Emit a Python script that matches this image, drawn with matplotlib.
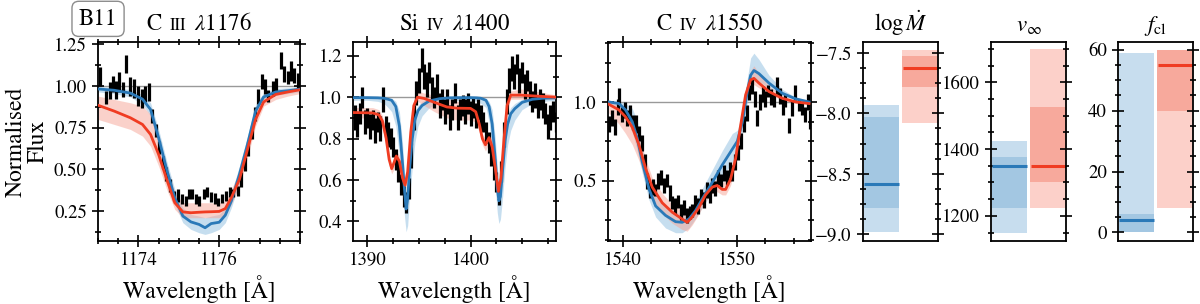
import matplotlib
matplotlib.use('Agg')
import matplotlib.pyplot as plt
from matplotlib.ticker import MultipleLocator, FormatStrFormatter
from matplotlib.offsetbox import TextArea, HPacker, AnchoredOffsetbox

plt.rcParams['font.family'] = 'STIXGeneral'
plt.rcParams['mathtext.fontset'] = 'stix'
plt.rcParams['axes.linewidth'] = 1.3

BLUE = '#2a79b8'
RED = '#f03c22'
BLUE_BAND = '#8fbfe0'
RED_BAND = '#f7a597'
BLUE_LIGHT = '#c7ddee'
BLUE_DARK = '#a3c7e2'
RED_LIGHT = '#fcd0c9'
RED_DARK = '#f7a99c'

# ---------- C III 1176 ----------
c3_wave = [1173.06, 1173.19, 1173.29, 1173.36, 1173.45, 1173.53, 1173.62, 1173.70, 1173.80, 1173.88,
           1173.98, 1174.09, 1174.17, 1174.25, 1174.33, 1174.43, 1174.51, 1174.61, 1174.69, 1174.78,
           1174.88, 1174.99, 1175.07, 1175.17, 1175.25, 1175.33, 1175.43, 1175.51, 1175.62, 1175.70,
           1175.80, 1175.90, 1175.98, 1176.08, 1176.16, 1176.27, 1176.35, 1176.46, 1176.54, 1176.64,
           1176.72, 1176.80, 1176.88, 1176.96, 1177.06, 1177.14, 1177.22, 1177.33, 1177.41, 1177.52,
           1177.60, 1177.70, 1177.78, 1177.86, 1177.94]
c3_flux = [1.058, 0.932, 0.972, 1.012, 0.978, 1.022, 0.978, 1.134, 0.998, 0.986,
           0.942, 0.926, 0.952, 0.966, 0.820, 0.732, 0.632, 0.542, 0.472, 0.402,
           0.342, 0.342, 0.322, 0.312, 0.352, 0.352, 0.322, 0.312, 0.352, 0.362,
           0.332, 0.326, 0.306, 0.326, 0.342, 0.362, 0.358, 0.372, 0.438, 0.532,
           0.622, 0.722, 0.832, 0.938, 1.026, 0.998, 0.942, 0.986, 1.006, 1.154,
           1.072, 1.052, 1.092, 1.066, 1.030]
c3_err = [0.055, 0.040, 0.050, 0.050, 0.055, 0.060, 0.045, 0.055, 0.055, 0.055,
          0.060, 0.055, 0.050, 0.055, 0.040, 0.040, 0.040, 0.040, 0.040, 0.040,
          0.030, 0.040, 0.030, 0.030, 0.030, 0.030, 0.030, 0.030, 0.030, 0.030,
          0.030, 0.035, 0.025, 0.025, 0.030, 0.030, 0.025, 0.030, 0.045, 0.040,
          0.040, 0.040, 0.040, 0.045, 0.045, 0.045, 0.035, 0.045, 0.045, 0.052,
          0.050, 0.040, 0.060, 0.045, 0.050]
c3_model_x = [1173.0, 1173.4, 1173.8, 1174.1, 1174.3, 1174.5, 1174.7, 1174.9, 1175.1, 1175.3,
              1175.5, 1175.65, 1175.8, 1176.0, 1176.15, 1176.3, 1176.5, 1176.7, 1176.9, 1177.1,
              1177.4, 1177.7, 1178.0]
c3_blue = [0.983, 0.975, 0.958, 0.922, 0.860, 0.690, 0.500, 0.330, 0.220, 0.185,
           0.170, 0.150, 0.175, 0.183, 0.225, 0.310, 0.470, 0.650, 0.850, 0.935,
           0.965, 0.972, 0.982]
c3_blue_lo = [0.965, 0.955, 0.935, 0.890, 0.820, 0.640, 0.450, 0.290, 0.180, 0.140,
              0.120, 0.110, 0.120, 0.140, 0.180, 0.270, 0.420, 0.600, 0.800, 0.910,
              0.945, 0.955, 0.965]
c3_blue_hi = [1.000, 0.990, 0.980, 0.950, 0.900, 0.740, 0.550, 0.380, 0.270, 0.230,
              0.220, 0.210, 0.220, 0.230, 0.270, 0.360, 0.520, 0.700, 0.890, 0.960,
              0.985, 0.990, 0.995]
c3_red = [0.885, 0.850, 0.810, 0.770, 0.710, 0.590, 0.440, 0.300, 0.245, 0.240,
          0.243, 0.245, 0.246, 0.248, 0.265, 0.330, 0.440, 0.620, 0.800, 0.905,
          0.950, 0.965, 0.978]
c3_red_lo = [0.800, 0.770, 0.740, 0.700, 0.640, 0.520, 0.380, 0.260, 0.210, 0.210,
             0.210, 0.210, 0.210, 0.210, 0.230, 0.290, 0.400, 0.570, 0.760, 0.880,
             0.920, 0.940, 0.955]
c3_red_hi = [0.940, 0.920, 0.900, 0.880, 0.830, 0.680, 0.520, 0.360, 0.300, 0.300,
             0.300, 0.300, 0.300, 0.300, 0.310, 0.380, 0.490, 0.670, 0.850, 0.940,
             0.975, 0.985, 0.990]

# ---------- Si IV 1400 ----------
si4_wave = [1388.75, 1389.00, 1389.25, 1389.50, 1389.75, 1390.00, 1390.25, 1390.50, 1390.75, 1391.00,
            1391.25, 1391.50, 1391.75, 1392.00, 1392.25, 1392.50, 1392.75, 1393.00, 1393.25, 1393.50,
            1393.75, 1394.00, 1394.25, 1394.50, 1394.75, 1395.00, 1395.25, 1395.50, 1395.75, 1396.00,
            1396.25, 1396.50, 1396.75, 1397.00, 1397.25, 1397.50, 1397.75, 1398.00, 1398.25, 1398.50,
            1398.75, 1399.00, 1399.25, 1399.50, 1399.75, 1400.00, 1400.25, 1400.50, 1400.75, 1401.00,
            1401.25, 1401.50, 1401.75, 1402.00, 1402.25, 1402.50, 1402.75, 1403.00, 1403.25, 1403.50,
            1403.75, 1404.00, 1404.25, 1404.50, 1404.75, 1405.00, 1405.25, 1405.50, 1405.75, 1406.00,
            1406.25, 1406.50, 1406.75, 1407.00, 1407.25, 1407.50, 1407.75, 1408.00, 1408.25]
si4_flux = [0.90, 0.87, 0.92, 1.00, 0.88, 0.90, 0.86, 0.89, 0.84, 0.88,
            0.85, 0.99, 0.86, 0.82, 0.80, 0.76, 0.70, 0.64, 0.58, 0.52,
            0.49, 0.56, 0.72, 0.90, 1.02, 1.08, 1.18, 1.10, 1.06, 1.12,
            1.04, 1.00, 1.05, 0.96, 0.99, 0.93, 0.98, 0.90, 0.94, 1.02,
            0.90, 0.94, 0.96, 0.93, 0.97, 0.92, 0.95, 0.91, 0.94, 0.90,
            0.88, 0.83, 0.78, 0.72, 0.65, 0.59, 0.53, 0.64, 0.82, 0.98,
            1.08, 1.14, 1.10, 1.16, 1.08, 1.12, 1.05, 1.08, 1.02, 0.98,
            1.01, 0.95, 0.99, 0.96, 0.92, 0.86, 0.90, 0.93, 0.88]
si4_err = [0.06, 0.06, 0.05, 0.05, 0.06, 0.05, 0.06, 0.05, 0.06, 0.05,
           0.06, 0.06, 0.05, 0.06, 0.05, 0.05, 0.05, 0.05, 0.05, 0.05,
           0.05, 0.05, 0.06, 0.06, 0.06, 0.06, 0.06, 0.06, 0.06, 0.05,
           0.06, 0.05, 0.06, 0.06, 0.05, 0.06, 0.06, 0.06, 0.05, 0.05,
           0.06, 0.05, 0.05, 0.06, 0.05, 0.06, 0.05, 0.06, 0.05, 0.06,
           0.05, 0.05, 0.05, 0.05, 0.05, 0.05, 0.05, 0.05, 0.06, 0.06,
           0.06, 0.06, 0.06, 0.05, 0.06, 0.05, 0.06, 0.05, 0.06, 0.05,
           0.06, 0.05, 0.05, 0.06, 0.05, 0.06, 0.06, 0.05, 0.05]
si4_blue_x = [1388.6, 1390.0, 1391.0, 1391.6, 1392.0, 1392.35, 1392.75, 1393.1, 1393.4, 1393.6,
              1393.75, 1393.9, 1394.1, 1394.35, 1394.6, 1394.9, 1395.3, 1396.0, 1397.0, 1398.0,
              1399.0, 1400.0, 1400.6, 1401.0, 1401.5, 1401.8, 1402.1, 1402.4, 1402.6, 1402.75,
              1402.9, 1403.1, 1403.35, 1403.6, 1403.9, 1404.3, 1405.0, 1406.0, 1407.0, 1408.4]
si4_blue = [0.998, 0.998, 0.997, 0.995, 0.990, 0.985, 0.955, 0.860, 0.680, 0.550,
            0.460, 0.510, 0.660, 0.800, 0.890, 0.935, 0.960, 0.982, 0.993, 0.997,
            0.998, 0.998, 0.997, 0.995, 0.985, 0.955, 0.870, 0.700, 0.560, 0.500,
            0.520, 0.640, 0.790, 0.870, 0.920, 0.945, 0.975, 0.990, 0.995, 0.997]
si4_blue_lo = [0.985, 0.985, 0.980, 0.970, 0.950, 0.930, 0.860, 0.720, 0.550, 0.420,
               0.350, 0.380, 0.520, 0.660, 0.780, 0.860, 0.910, 0.950, 0.975, 0.985,
               0.985, 0.985, 0.980, 0.970, 0.950, 0.880, 0.740, 0.560, 0.440, 0.390,
               0.410, 0.510, 0.660, 0.770, 0.840, 0.890, 0.940, 0.970, 0.980, 0.985]
si4_blue_hi = [1.000, 1.000, 1.000, 1.000, 0.998, 0.995, 0.980, 0.930, 0.780, 0.620,
               0.520, 0.580, 0.740, 0.870, 0.930, 0.960, 0.980, 0.995, 1.000, 1.000,
               1.000, 1.000, 1.000, 1.000, 0.995, 0.980, 0.940, 0.800, 0.660, 0.570,
               0.600, 0.730, 0.860, 0.920, 0.950, 0.970, 0.990, 1.000, 1.000, 1.000]
si4_red_x = [1388.6, 1390.5, 1391.1, 1391.45, 1391.8, 1392.1, 1392.35, 1392.55, 1392.8, 1393.1,
             1393.4, 1393.65, 1393.9, 1394.2, 1394.5, 1394.85, 1395.5, 1396.5, 1397.7, 1398.7,
             1400.0, 1400.5, 1400.85, 1401.15, 1401.45, 1401.8, 1402.1, 1402.45, 1402.7, 1402.95,
             1403.25, 1403.55, 1403.9, 1404.9, 1406.2, 1408.4]
si4_red = [0.926, 0.924, 0.915, 0.885, 0.805, 0.700, 0.655, 0.680, 0.716, 0.690,
           0.610, 0.575, 0.640, 0.830, 0.960, 1.000, 0.994, 0.975, 0.953, 0.947,
           0.946, 0.930, 0.870, 0.800, 0.770, 0.805, 0.760, 0.640, 0.545, 0.610,
           0.800, 0.960, 1.010, 1.010, 1.006, 1.000]
si4_red_lo = [0.900, 0.900, 0.890, 0.850, 0.770, 0.670, 0.630, 0.650, 0.690, 0.660,
              0.580, 0.550, 0.610, 0.800, 0.940, 0.980, 0.960, 0.930, 0.900, 0.890,
              0.890, 0.880, 0.830, 0.770, 0.740, 0.780, 0.730, 0.610, 0.520, 0.580,
              0.770, 0.940, 0.990, 0.990, 0.990, 0.990]
si4_red_hi = [0.950, 0.950, 0.940, 0.910, 0.840, 0.730, 0.680, 0.710, 0.740, 0.720,
              0.640, 0.600, 0.670, 0.860, 0.990, 1.030, 1.020, 1.010, 0.990, 0.980,
              0.970, 0.960, 0.900, 0.820, 0.800, 0.830, 0.790, 0.670, 0.570, 0.640,
              0.830, 0.990, 1.030, 1.040, 1.030, 1.010]

# ---------- C IV 1550 ----------
c4_wave = [1538.80, 1539.05, 1539.30, 1539.55, 1539.70, 1539.90, 1540.15, 1540.40, 1540.65, 1540.90,
           1541.15, 1541.40, 1541.65, 1541.90, 1542.10, 1542.35, 1542.60, 1542.85, 1543.10, 1543.35,
           1543.60, 1543.85, 1544.10, 1544.35, 1544.60, 1544.85, 1545.10, 1545.35, 1545.60, 1545.85,
           1546.10, 1546.35, 1546.60, 1546.85, 1547.10, 1547.35, 1547.60, 1547.85, 1548.10, 1548.35,
           1548.60, 1548.85, 1549.10, 1549.35, 1549.60, 1549.85, 1550.10, 1550.35, 1550.60, 1550.85,
           1551.10, 1551.35, 1551.55, 1551.75, 1552.00, 1552.25, 1552.50, 1552.75, 1553.00, 1553.25,
           1553.50, 1553.75, 1554.00, 1554.25, 1554.60, 1554.85, 1555.10, 1555.40, 1555.70, 1555.95,
           1556.25, 1556.40]
c4_flux = [0.86, 0.90, 0.84, 0.97, 1.04, 0.92, 0.95, 0.90, 0.93, 0.87,
           0.86, 0.80, 0.74, 0.62, 0.50, 0.44, 0.46, 0.44, 0.50, 0.52,
           0.47, 0.50, 0.42, 0.36, 0.34, 0.37, 0.30, 0.33, 0.28, 0.30,
           0.31, 0.36, 0.34, 0.40, 0.38, 0.44, 0.41, 0.47, 0.45, 0.52,
           0.50, 0.55, 0.52, 0.57, 0.55, 0.62, 0.68, 0.75, 0.86, 0.93,
           1.06, 1.10, 1.02, 0.90, 1.00, 1.05, 1.02, 1.07, 1.03, 1.01,
           1.10, 1.04, 0.97, 1.01, 0.85, 0.96, 1.06, 0.98, 0.96, 0.92,
           1.00, 0.89]
c4_err = [0.05, 0.05, 0.05, 0.05, 0.05, 0.05, 0.05, 0.05, 0.05, 0.05,
          0.06, 0.05, 0.05, 0.05, 0.05, 0.05, 0.05, 0.04, 0.05, 0.05,
          0.05, 0.04, 0.05, 0.04, 0.05, 0.04, 0.05, 0.05, 0.05, 0.04,
          0.04, 0.05, 0.05, 0.05, 0.05, 0.05, 0.05, 0.05, 0.05, 0.05,
          0.04, 0.05, 0.05, 0.05, 0.05, 0.05, 0.05, 0.05, 0.05, 0.05,
          0.05, 0.05, 0.05, 0.05, 0.05, 0.05, 0.05, 0.04, 0.05, 0.04,
          0.06, 0.05, 0.05, 0.04, 0.05, 0.05, 0.05, 0.04, 0.04, 0.05,
          0.05, 0.06]
c4_blue_x = [1538.77, 1539.65, 1540.23, 1540.82, 1541.26, 1541.70, 1542.28, 1542.87, 1543.74, 1544.62,
             1545.20, 1545.79, 1546.37, 1546.96, 1547.84, 1548.71, 1549.59, 1550.03, 1550.47, 1550.91,
             1551.20, 1551.49, 1551.93, 1552.81, 1553.98, 1555.15, 1556.32]
c4_blue = [1.000, 0.990, 0.950, 0.875, 0.770, 0.620, 0.450, 0.340, 0.280, 0.240,
           0.236, 0.257, 0.310, 0.385, 0.490, 0.600, 0.700, 0.750, 0.870, 1.066,
           1.170, 1.200, 1.180, 1.120, 1.055, 1.020, 1.000]
c4_blue_lo = [0.990, 0.970, 0.910, 0.810, 0.690, 0.550, 0.380, 0.270, 0.200, 0.170,
              0.170, 0.200, 0.260, 0.330, 0.430, 0.520, 0.620, 0.660, 0.800, 0.990,
              1.100, 1.140, 1.130, 1.090, 1.040, 1.010, 0.995]
c4_blue_hi = [1.005, 1.000, 0.990, 0.960, 0.880, 0.720, 0.530, 0.410, 0.340, 0.300,
              0.290, 0.310, 0.370, 0.450, 0.570, 0.690, 0.800, 0.820, 0.930, 1.150,
              1.280, 1.310, 1.270, 1.170, 1.080, 1.030, 1.005]
c4_red_x = [1538.77, 1539.65, 1540.23, 1540.82, 1541.40, 1541.99, 1542.57, 1543.45, 1544.33, 1545.20,
            1545.64, 1546.08, 1546.67, 1547.25, 1547.84, 1548.27, 1548.71, 1549.01, 1549.44, 1549.88,
            1550.32, 1550.76, 1551.20, 1551.49, 1551.93, 1552.81, 1553.98, 1555.15, 1556.32]
c4_red = [0.985, 0.950, 0.906, 0.840, 0.730, 0.580, 0.460, 0.360, 0.300, 0.257,
          0.236, 0.270, 0.330, 0.410, 0.460, 0.470, 0.445, 0.445, 0.510, 0.640,
          0.850, 1.045, 1.140, 1.150, 1.120, 1.066, 1.023, 1.000, 0.990]
c4_red_lo = [0.930, 0.860, 0.800, 0.730, 0.630, 0.500, 0.390, 0.290, 0.230, 0.190,
             0.180, 0.220, 0.290, 0.370, 0.420, 0.430, 0.410, 0.410, 0.470, 0.590,
             0.800, 1.000, 1.100, 1.110, 1.090, 1.050, 1.010, 0.995, 0.985]
c4_red_hi = [1.000, 0.980, 0.950, 0.890, 0.790, 0.640, 0.520, 0.420, 0.350, 0.310,
             0.290, 0.320, 0.370, 0.440, 0.490, 0.510, 0.490, 0.500, 0.570, 0.700,
             0.900, 1.090, 1.200, 1.230, 1.180, 1.100, 1.040, 1.010, 1.000]

# ---------- parameters: (outer lo, inner lo, best, inner hi, outer hi) ----------
mdot_blue = [-8.98, -8.78, -8.58, -8.03, -7.93]
mdot_red = [-8.08, -7.78, -7.63, -7.53, -7.48]
vinf_blue = [1150, 1225, 1350, 1375, 1425]
vinf_red = [1225, 1300, 1350, 1525, 1700]
fcl_blue = [0, 0, 4, 6, 59]
fcl_red = [8, 40, 55, 60, 60]


def style_ticks(ax, bottom=True):
    ax.tick_params(which='both', direction='inout', top=bottom, right=True,
                   bottom=bottom, labelsize=13.5, width=1.2)
    ax.tick_params(which='major', length=9)
    ax.tick_params(which='minor', length=5)


def ion_title(ax, elem, stage, wl):
    parts = [TextArea(elem, textprops=dict(fontsize=16.5)),
             TextArea(stage, textprops=dict(fontsize=12)),
             TextArea(r'$\lambda$' + wl, textprops=dict(fontsize=16.5))]
    box = HPacker(children=parts, align='baseline', pad=0, sep=6)
    anch = AnchoredOffsetbox(loc='lower center', child=box, pad=0, borderpad=0,
                             frameon=False, bbox_to_anchor=(0.5, 1.035),
                             bbox_transform=ax.transAxes)
    ax.add_artist(anch)


def spec_panel(ax, wave, flux, err, bx, b, blo, bhi, rx, r, rlo, rhi):
    ax.axhline(1.0, color='0.6', lw=1.0, zorder=0)
    ax.fill_between(bx, blo, bhi, color=BLUE_BAND, alpha=0.5, lw=0, zorder=1)
    ax.fill_between(rx, rlo, rhi, color=RED_BAND, alpha=0.5, lw=0, zorder=1)
    ax.errorbar(wave, flux, yerr=err, fmt='none', ecolor='k', elinewidth=2.3,
                capsize=0, zorder=2)
    ax.plot(bx, b, color=BLUE, lw=2.0, zorder=3)
    ax.plot(rx, r, color=RED, lw=2.0, zorder=4)
    ax.set_xlabel('Wavelength [Å]', fontsize=17)
    style_ticks(ax)


def param_panel(ax, blue, red, title):
    ax.bar(0.5, blue[4] - blue[0], bottom=blue[0], width=0.94, color=BLUE_LIGHT, lw=0)
    ax.bar(0.5, blue[3] - blue[1], bottom=blue[1], width=0.94, color=BLUE_DARK, lw=0)
    ax.bar(1.52, red[4] - red[0], bottom=red[0], width=0.96, color=RED_LIGHT, lw=0)
    ax.bar(1.52, red[3] - red[1], bottom=red[1], width=0.96, color=RED_DARK, lw=0)
    ax.hlines(blue[2], 0.03, 0.97, color=BLUE, lw=2.2)
    ax.hlines(red[2], 1.06, 2.0, color=RED, lw=2.2)
    ax.set_xlim(0, 2)
    ax.set_xticks([])
    ax.set_title(title, fontsize=16.5, pad=8)
    style_ticks(ax, bottom=False)


fig = plt.figure(figsize=(12, 3.04), dpi=100)
bot, hgt = 0.207, 0.655
ax1 = fig.add_axes([0.0817, bot, 0.1683, hgt])
ax2 = fig.add_axes([0.2942, bot, 0.1692, hgt])
ax3 = fig.add_axes([0.5067, bot, 0.1692, hgt])
ax4 = fig.add_axes([0.7192, bot, 0.0625, hgt])
ax5 = fig.add_axes([0.8258, bot, 0.0625, hgt])
ax6 = fig.add_axes([0.9317, bot, 0.0625, hgt])

spec_panel(ax1, c3_wave, c3_flux, c3_err, c3_model_x, c3_blue, c3_blue_lo, c3_blue_hi,
           c3_model_x, c3_red, c3_red_lo, c3_red_hi)
ax1.set_xlim(1173.0, 1178.0)
ax1.set_ylim(0.07, 1.265)
ax1.set_xticks([1174, 1176])
ax1.xaxis.set_minor_locator(MultipleLocator(0.5))
ax1.set_yticks([0.25, 0.5, 0.75, 1.0, 1.25])
ax1.yaxis.set_minor_locator(MultipleLocator(0.125))
ax1.yaxis.set_major_formatter(FormatStrFormatter('%.2f'))
ax1.set_ylabel('Normalised\nFlux', fontsize=17, linespacing=1.0)
ion_title(ax1, 'C', 'III', '1176')

spec_panel(ax2, si4_wave, si4_flux, si4_err, si4_blue_x, si4_blue, si4_blue_lo, si4_blue_hi,
           si4_red_x, si4_red, si4_red_lo, si4_red_hi)
ax2.set_xlim(1388.6, 1408.3)
ax2.set_ylim(0.305, 1.267)
ax2.set_xticks([1390, 1400])
ax2.xaxis.set_minor_locator(MultipleLocator(2.5))
ax2.set_yticks([0.4, 0.6, 0.8, 1.0, 1.2])
ax2.yaxis.set_minor_locator(MultipleLocator(0.1))
ax2.yaxis.set_major_formatter(FormatStrFormatter('%.1f'))
ion_title(ax2, 'Si', 'IV', '1400')

spec_panel(ax3, c4_wave, c4_flux, c4_err, c4_blue_x, c4_blue, c4_blue_lo, c4_blue_hi,
           c4_red_x, c4_red, c4_red_lo, c4_red_hi)
ax3.set_xlim(1538.7, 1556.5)
ax3.set_ylim(0.117, 1.381)
ax3.set_xticks([1540, 1550])
ax3.xaxis.set_minor_locator(MultipleLocator(2.5))
ax3.set_yticks([0.5, 1.0])
ax3.yaxis.set_minor_locator(MultipleLocator(0.125))
ax3.yaxis.set_major_formatter(FormatStrFormatter('%.1f'))
ion_title(ax3, 'C', 'IV', '1550')

param_panel(ax4, mdot_blue, mdot_red, r'$\log\dot{M}$')
ax4.set_ylim(-9.055, -7.412)
ax4.set_yticks([-9.0, -8.5, -8.0, -7.5])
ax4.yaxis.set_minor_locator(MultipleLocator(0.125))
ax4.yaxis.set_major_formatter(FormatStrFormatter('$%.1f$'))

param_panel(ax5, vinf_blue, vinf_red, r'$v_\infty$')
ax5.set_ylim(1124.5, 1721)
ax5.set_yticks([1200, 1400, 1600])
ax5.yaxis.set_minor_locator(MultipleLocator(50))

param_panel(ax6, fcl_blue, fcl_red, r'$f_\mathrm{cl}$')
ax6.set_ylim(-2.85, 62.6)
ax6.set_yticks([0, 20, 40, 60])
ax6.yaxis.set_minor_locator(MultipleLocator(5))

fig.text(0.0817, 0.938, 'B11', fontsize=16.5, ha='center', va='center',
         bbox=dict(boxstyle='round,pad=0.3', fc='white', ec='0.55', lw=1.0))

fig.savefig('out.png', dpi=100)
